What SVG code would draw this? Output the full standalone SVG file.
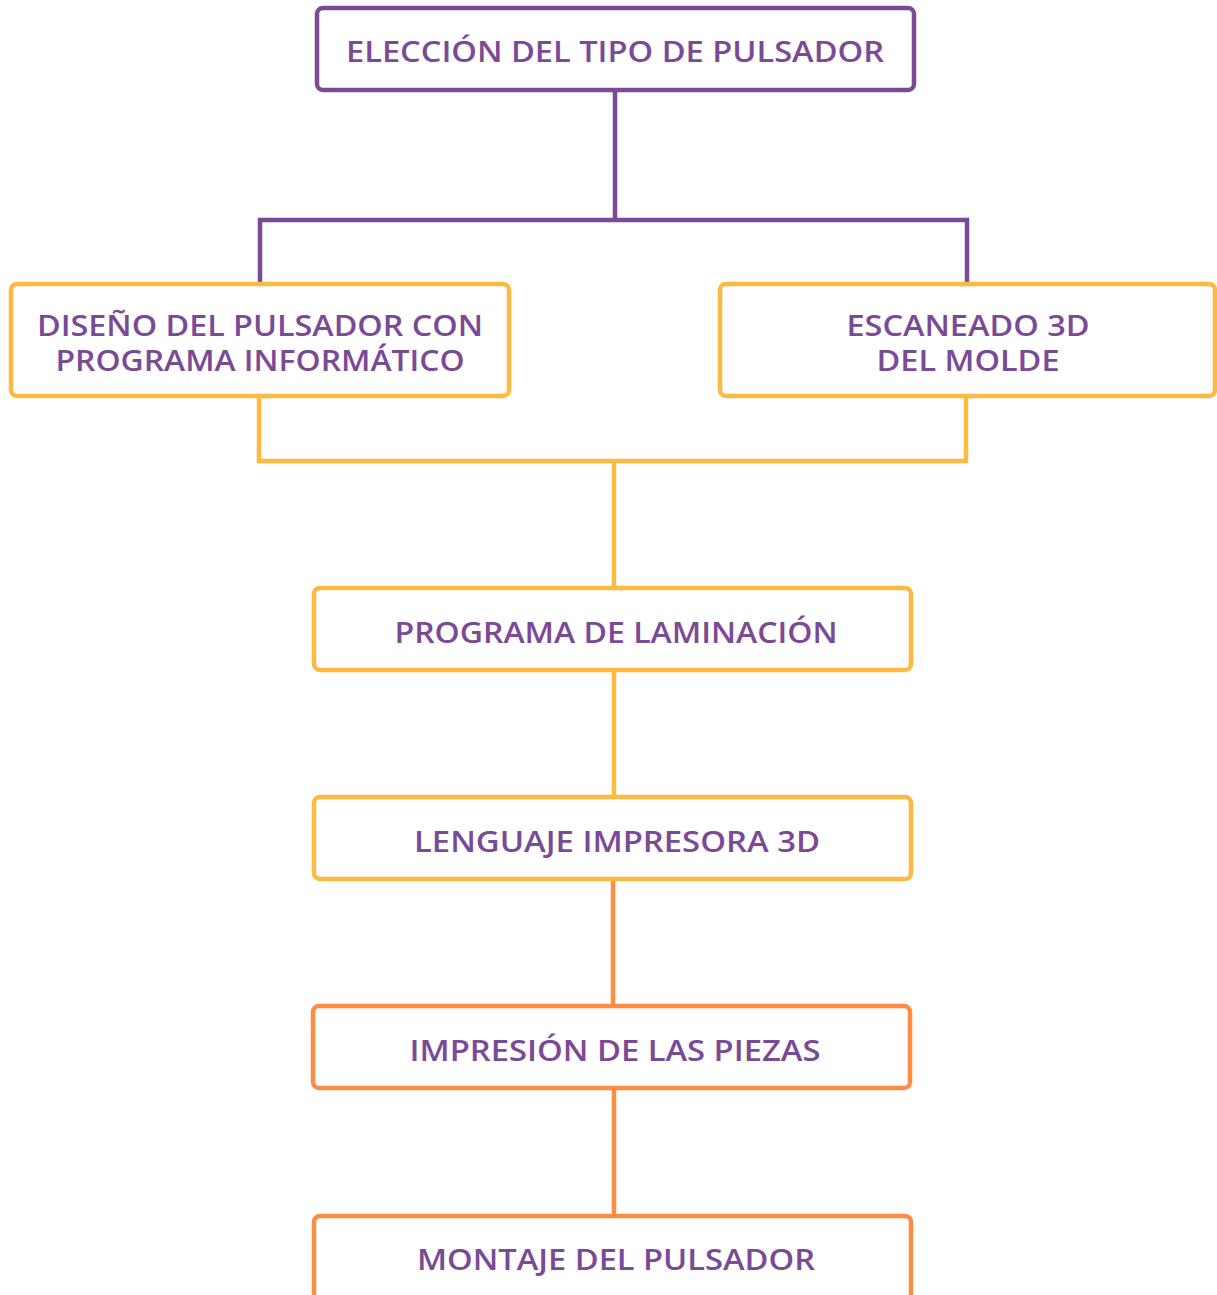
<svg xmlns="http://www.w3.org/2000/svg" width="1217" height="1295" viewBox="0 0 1217 1295">
<style>
.box{fill:#fff;stroke-width:4.5}
.p{stroke:#7B4A97}
.y{stroke:#FDB940}
.o{stroke:#FF8C42}
.c{fill:none;stroke-width:4.5}
text{font-family:"Open Sans","Liberation Sans",sans-serif;font-weight:600;font-size:29px;fill:#7B4A97;text-anchor:middle}
</style>
<rect width="1217" height="1295" fill="#fff"/>
<g id="connectors">
<path class="c p" d="M615 90V220M260 283V220H967V283"/>
<path class="c y" d="M259 396V461H966V396M614 461V588M614 670V797"/>
<path class="c o" d="M613 879V1006M614 1088V1216"/>
</g>
<g id="n1"><rect class="box p" x="317" y="8" width="597" height="82" rx="6"/><text x="615" y="62" textLength="538" lengthAdjust="spacingAndGlyphs">ELECCIÓN DEL TIPO DE PULSADOR</text></g>
<g id="n2"><rect class="box y" x="11" y="284" width="498" height="112" rx="6"/><text x="260" y="336" textLength="446" lengthAdjust="spacingAndGlyphs">DISEÑO DEL PULSADOR CON</text><text x="260" y="371" textLength="409" lengthAdjust="spacingAndGlyphs">PROGRAMA INFORMÁTICO</text></g>
<g id="n3"><rect class="box y" x="720" y="284" width="495" height="112" rx="6"/><text x="968" y="336" textLength="243" lengthAdjust="spacingAndGlyphs">ESCANEADO 3D</text><text x="968" y="371" textLength="183" lengthAdjust="spacingAndGlyphs">DEL MOLDE</text></g>
<g id="n4"><rect class="box y" x="314" y="588" width="597" height="82" rx="6"/><text x="616" y="643" textLength="443" lengthAdjust="spacingAndGlyphs">PROGRAMA DE LAMINACIÓN</text></g>
<g id="n5"><rect class="box y" x="314" y="797" width="597" height="82" rx="6"/><text x="617" y="852" textLength="406" lengthAdjust="spacingAndGlyphs">LENGUAJE IMPRESORA 3D</text></g>
<g id="n6"><rect class="box o" x="313" y="1006" width="597" height="82" rx="6"/><text x="615" y="1061" textLength="411" lengthAdjust="spacingAndGlyphs">IMPRESIÓN DE LAS PIEZAS</text></g>
<g id="n7"><rect class="box o" x="314" y="1216" width="597" height="90" rx="6"/><text x="616" y="1270" textLength="398" lengthAdjust="spacingAndGlyphs">MONTAJE DEL PULSADOR</text></g>
</svg>
